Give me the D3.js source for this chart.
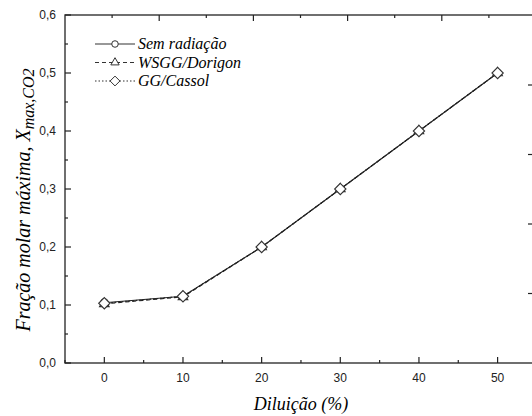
<!DOCTYPE html>
<html><head><meta charset="utf-8">
<script src="https://cdn.jsdelivr.net/npm/d3@7"></script>
<style>body{margin:0;background:#fff}svg{display:block}
.serif{font-family:"Liberation Serif","Times New Roman","DejaVu Serif",serif;font-style:italic}
.sans{font-family:"Liberation Sans",Arial,sans-serif}
</style>
</head><body>
<svg id="c" width="532" height="416"></svg>
<script>
const dilution = [0, 10, 20, 30, 40, 50];
const semRadiacao = [0.104, 0.115, 0.200, 0.300, 0.400, 0.500];
const wsggDorigon = [0.102, 0.114, 0.200, 0.300, 0.400, 0.500];
const ggCassol    = [0.103, 0.115, 0.200, 0.300, 0.400, 0.500];
const seriesNames = ["Sem radiação", "WSGG/Dorigon", "GG/Cassol"];
const xTicks = [0, 10, 20, 30, 40, 50];
const xMinor = [-5, 5, 15, 25, 35, 45];
const yTicks = [0, 0.1, 0.2, 0.3, 0.4, 0.5, 0.6];
const yMinor = [0.05, 0.15, 0.25, 0.35, 0.45, 0.55];
const topTicks = [1, 2, 3, 4];
const topMinor = [0.5, 1.5, 2.5, 3.5, 4.5];
const rightTicks = [1, 2, 3, 4];

const svg = d3.select("#c");
const L = 65, T = 15, R = 533, B = 363;
const x = d3.scaleLinear().domain([-5, 54.5]).range([L, R]);
const y = d3.scaleLinear().domain([0, 0.6]).range([B, T]);
const xTop = d3.scaleLinear().domain([0, 5]).range([L, L + 5 * 94.2]);
const yRight = d3.scaleLinear().domain([0, 5]).range([B, T + 0.5]);
const ink = "#222";
const fmt = d => d3.format(".1f")(d).replace(".", ",");

svg.append("rect").attr("x", L).attr("y", T).attr("width", R - L).attr("height", B - T)
  .attr("fill", "none").attr("stroke", "#333").attr("stroke-width", 1.4);

const gx = svg.append("g");
gx.selectAll("line.maj").data(xTicks).join("line")
  .attr("x1", d => x(d)).attr("x2", d => x(d)).attr("y1", B).attr("y2", B - 6)
  .attr("stroke", ink).attr("stroke-width", 1.2);
gx.selectAll("line.min").data(xMinor).join("line").attr("class", "min")
  .attr("x1", d => x(d)).attr("x2", d => x(d)).attr("y1", B).attr("y2", B - 3)
  .attr("stroke", ink).attr("stroke-width", 1.2);
gx.selectAll("text").data(xTicks).join("text").attr("class", "sans")
  .attr("x", d => x(d)).attr("y", B + 19).attr("text-anchor", "middle")
  .attr("font-size", 12).attr("fill", ink).text(d => d);

const gy = svg.append("g");
gy.selectAll("line.maj").data(yTicks).join("line")
  .attr("x1", L).attr("x2", L + 6).attr("y1", d => y(d)).attr("y2", d => y(d))
  .attr("stroke", ink).attr("stroke-width", 1.2);
gy.selectAll("line.min").data(yMinor).join("line").attr("class", "min")
  .attr("x1", L).attr("x2", L + 3).attr("y1", d => y(d)).attr("y2", d => y(d))
  .attr("stroke", ink).attr("stroke-width", 1.2);
gy.selectAll("text").data(yTicks).join("text").attr("class", "sans")
  .attr("x", L - 9).attr("y", d => y(d) + 4).attr("text-anchor", "end")
  .attr("font-size", 12).attr("fill", ink).text(fmt);

svg.append("g").selectAll("line").data(topTicks).join("line")
  .attr("x1", d => xTop(d)).attr("x2", d => xTop(d)).attr("y1", T).attr("y2", T + 6)
  .attr("stroke", ink).attr("stroke-width", 1.2);
svg.append("g").selectAll("line").data(topMinor).join("line")
  .attr("x1", d => xTop(d)).attr("x2", d => xTop(d)).attr("y1", T).attr("y2", T + 3)
  .attr("stroke", ink).attr("stroke-width", 1.2);

svg.append("g").selectAll("line").data(rightTicks).join("line")
  .attr("x1", R - 5).attr("x2", R).attr("y1", d => yRight(d)).attr("y2", d => yRight(d))
  .attr("stroke", ink).attr("stroke-width", 1.2);

const diamond = {draw(ctx, size) { const r = Math.sqrt(size / 2); ctx.moveTo(0, -r); ctx.lineTo(r, 0); ctx.lineTo(0, r); ctx.lineTo(-r, 0); ctx.closePath(); }};
const series = [
  {name: seriesNames[0], vals: semRadiacao, dash: null, sym: d3.symbolCircle, size: 45},
  {name: seriesNames[1], vals: wsggDorigon, dash: "4,3", sym: d3.symbolTriangle, size: 40},
  {name: seriesNames[2], vals: ggCassol, dash: "1.5,2", sym: diamond, size: 64}
];
const line = d3.line().x(d => x(d[0])).y(d => y(d[1]));
series.forEach(s => {
  const pts = dilution.map((d, i) => [d, s.vals[i]]);
  svg.append("path").attr("d", line(pts)).attr("fill", "none")
    .attr("stroke", "#222").attr("stroke-width", 1.1).attr("stroke-dasharray", s.dash);
});
series.forEach(s => {
  const pts = dilution.map((d, i) => [d, s.vals[i]]);
  svg.append("g").selectAll("path").data(pts).join("path")
    .attr("transform", d => `translate(${x(d[0])},${y(d[1])})`)
    .attr("d", d3.symbol().type(s.sym).size(s.size)())
    .attr("fill", "#fff").attr("stroke", "#333").attr("stroke-width", 1.1);
});

const leg = svg.append("g");
series.forEach((s, i) => {
  const yy = 44 + i * 18.5;
  leg.append("line").attr("x1", 95).attr("x2", 135).attr("y1", yy).attr("y2", yy)
    .attr("stroke", "#333").attr("stroke-width", 1.1).attr("stroke-dasharray", s.dash);
  leg.append("path").attr("transform", `translate(115,${yy})`)
    .attr("d", d3.symbol().type(s.sym).size(s.size * 0.75)())
    .attr("fill", "#fff").attr("stroke", "#333").attr("stroke-width", 1);
  leg.append("text").attr("class", "serif").attr("x", 138).attr("y", yy + 5)
    .attr("font-size", 16).attr("fill", "#000").text(s.name);
});

svg.append("text").attr("class", "serif").attr("x", 301).attr("y", 410).attr("text-anchor", "middle")
  .attr("font-size", 18).attr("fill", "#000").text("Diluição (%)");

const yt = svg.append("text").attr("class", "serif").attr("transform", "translate(30,200) rotate(-90)")
  .attr("text-anchor", "middle").attr("font-size", 20).attr("fill", "#000");
yt.append("tspan").text("Fração molar máxima, X");
yt.append("tspan").attr("font-size", 16).attr("dy", 4).text("max,CO2");
</script>
</body></html>
